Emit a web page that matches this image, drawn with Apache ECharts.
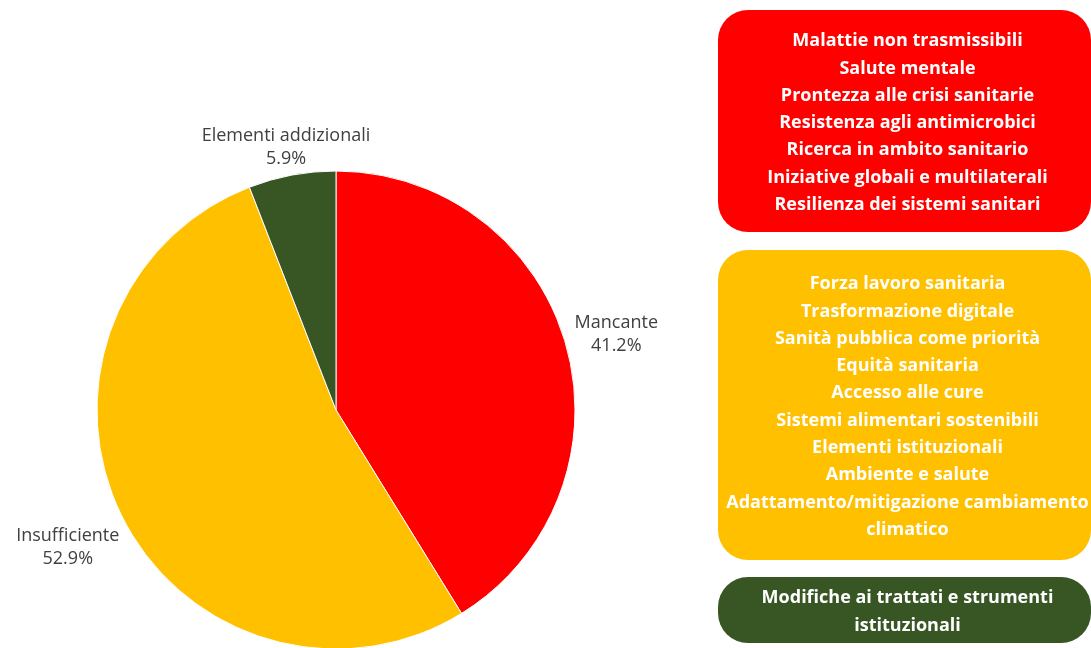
<!DOCTYPE html>
<html>
<head>
<meta charset="utf-8">
<script src="https://cdn.jsdelivr.net/npm/echarts@6/dist/echarts.min.js"></script>
<style>
  html, body { margin: 0; padding: 0; background: #fff; }
  #main { width: 1091px; height: 648px; }
</style>
</head>
<body>
<div id="main"></div>
<script>
// dati
var categories = ['Mancante', 'Insufficiente', 'Elementi addizionali'];
var values = [41.2, 52.9, 5.9];
var colors = ['#FF0000', '#FFC000', '#375623'];

var redItems = [
    'Malattie non trasmissibili',
    'Salute mentale',
    'Prontezza alle crisi sanitarie',
    'Resistenza agli antimicrobici',
    'Ricerca in ambito sanitario',
    'Iniziative globali e multilaterali',
    'Resilienza dei sistemi sanitari'
];
var yellowItems = [
    'Forza lavoro sanitaria',
    'Trasformazione digitale',
    'Sanità pubblica come priorità',
    'Equità sanitaria',
    'Accesso alle cure',
    'Sistemi alimentari sostenibili',
    'Elementi istituzionali',
    'Ambiente e salute',
    'Adattamento/mitigazione cambiamento\nclimatico'
];
var greenItems = [
    'Modifiche ai trattati e strumenti\nistituzionali'
];

var cx = 336, cy = 410, R = 239;
var total = values.reduce(function (a, b) { return a + b; }, 0);
var cum = [];
values.reduce(function (acc, v, i) { cum[i] = acc; return acc + v; }, 0);

var myChart = echarts.init(document.getElementById('main'));

// riquadro arrotondato con testo centrato
function box(items, color, top, height) {
    return {
        type: 'rect',
        left: 718,
        top: top,
        shape: { width: 373, height: height, r: 30 },
        style: { fill: color },
        textContent: {
            style: {
                text: items.join('\n'),
                fill: '#fff',
                font: 'bold 18px "Open Sans"',
                align: 'center',
                lineHeight: 27.3
            }
        },
        textConfig: { position: 'inside', offset: [3, 2] }
    };
}

var option = {
    backgroundColor: '#fff',
    animation: false,
    series: [
        {
            type: 'pie',
            center: [cx, cy],
            radius: R,
            startAngle: 90,
            clockwise: true,
            avoidLabelOverlap: false,
            itemStyle: { borderColor: '#fff', borderWidth: 1 },
            label: {
                show: true,
                position: 'outside',
                formatter: '{b}\n{c}%',
                fontFamily: 'Open Sans',
                fontSize: 18,
                lineHeight: 23,
                color: '#404040'
            },
            labelLine: { show: false },
            // etichette centrate lungo il raggio medio della fetta
            labelLayout: function (params) {
                var i = params.dataIndex;
                var mid = (cum[i] + values[i] / 2) / total * 2 * Math.PI;
                var ux = Math.sin(mid), uy = -Math.cos(mid);
                var hw = params.labelRect.width / 2, hh = params.labelRect.height / 2;
                var tx = Math.abs(ux) > 1e-6 ? hw / Math.abs(ux) : Infinity;
                var ty = Math.abs(uy) > 1e-6 ? hh / Math.abs(uy) : Infinity;
                var d = R + 9 + Math.min(tx, ty);
                return { x: cx + d * ux, y: cy + d * uy + 4, align: 'center', verticalAlign: 'middle' };
            },
            data: categories.map(function (c, i) {
                return { name: c, value: values[i], itemStyle: { color: colors[i] } };
            })
        }
    ],
    graphic: [
        box(redItems, '#FF0000', 10, 222),
        box(yellowItems, '#FFC000', 250, 310),
        box(greenItems, '#375623', 577, 66)
    ]
};
myChart.setOption(option);
</script>
</body>
</html>
